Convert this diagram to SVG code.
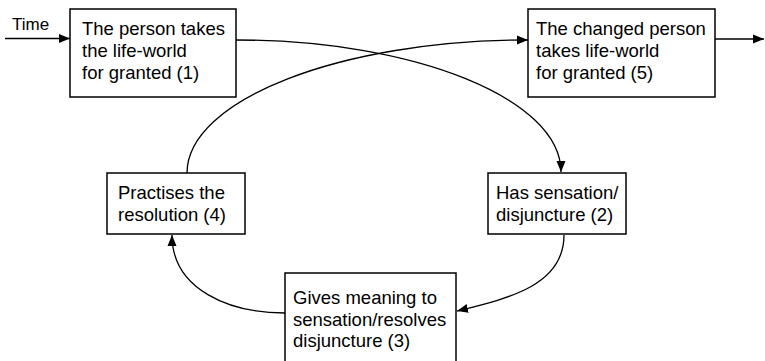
<svg xmlns="http://www.w3.org/2000/svg" width="765" height="361" viewBox="0 0 765 361">
<defs>
<style>
.box{fill:#fff;stroke:#000;stroke-width:1.5}
.t{font-family:"Liberation Sans",Arial,sans-serif;font-size:18.5px;fill:#000}
.c{fill:none;stroke:#000;stroke-width:1.3}
</style>
<marker id="ah" markerUnits="userSpaceOnUse" markerWidth="12" markerHeight="10" refX="11" refY="4.5" orient="auto" viewBox="0 0 12 9">
<path d="M0,0 L11,4.5 L0,9 z" fill="#000"/>
</marker>
</defs>
<rect width="765" height="361" fill="#fff"/>
<g id="connectors">
<path class="c" d="M5,38.5 L70,38.5" marker-end="url(#ah)"/>
<path class="c" d="M715,39 L764,39" marker-end="url(#ah)"/>
<path class="c" d="M236,40 C415,40 561,99 561,172" marker-end="url(#ah)"/>
<path class="c" d="M187,173 C187,100 340,40 528,40" marker-end="url(#ah)"/>
<path class="c" d="M564,235 C564,285 510,298 457,311" marker-end="url(#ah)"/>
<path class="c" d="M285,313 C230,313 172,290 172,235" marker-end="url(#ah)"/>
</g>
<g id="time">
<text class="t" x="12" y="30" style="font-size:17px">Time</text>
</g>
<g id="node1">
<rect class="box" x="70" y="9" width="166" height="88"/>
<text class="t" x="82" y="35">The person takes</text>
<text class="t" x="82" y="57">the life-world</text>
<text class="t" x="82" y="79">for granted (1)</text>
</g>
<g id="node5">
<rect class="box" x="528" y="9" width="187" height="88"/>
<text class="t" x="536" y="35">The changed person</text>
<text class="t" x="536" y="57">takes life-world</text>
<text class="t" x="536" y="79">for granted (5)</text>
</g>
<g id="node4">
<rect class="box" x="107" y="173" width="138" height="61"/>
<text class="t" x="118" y="199">Practises the</text>
<text class="t" x="118" y="221">resolution (4)</text>
</g>
<g id="node2">
<rect class="box" x="488" y="173" width="138" height="61"/>
<text class="t" x="496" y="199">Has sensation/</text>
<text class="t" x="496" y="221">disjuncture (2)</text>
</g>
<g id="node3">
<rect class="box" x="285" y="273" width="171" height="100"/>
<text class="t" x="293" y="304">Gives meaning to</text>
<text class="t" x="293" y="326">sensation/resolves</text>
<text class="t" x="293" y="347">disjuncture (3)</text>
</g>
</svg>
